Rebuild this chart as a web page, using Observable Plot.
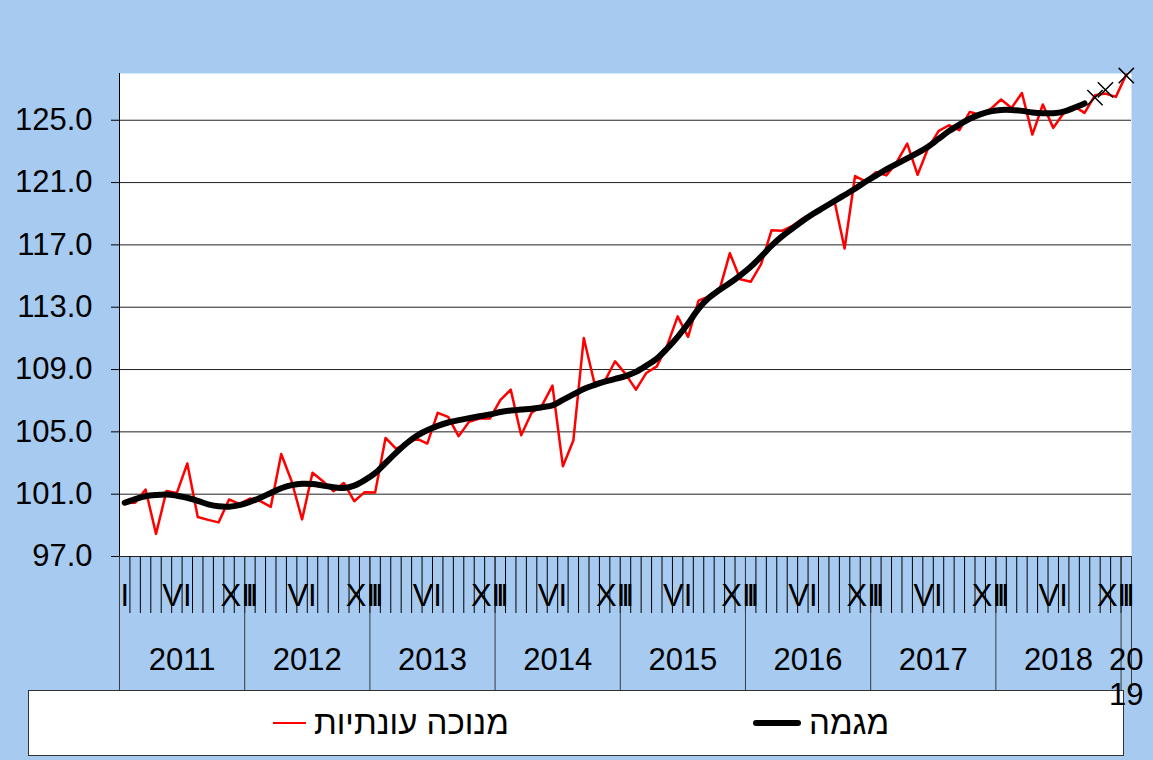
<!DOCTYPE html>
<html>
<head>
<meta charset="utf-8">
<script src="https://cdn.jsdelivr.net/npm/d3@7"></script>
<script src="https://cdn.jsdelivr.net/npm/@observablehq/plot@0.6"></script>
<style>
  html, body { margin: 0; padding: 0; }
  body { width: 1153px; height: 760px; background: #A6CAF0; position: relative; overflow: hidden;
         font-family: Arial, "Liberation Sans", sans-serif; }
  #chart { position: absolute; left: 0; top: 0; z-index: 2; }
  #legend { position: absolute; left: 28px; top: 690px; width: 1096px; height: 66px; background: #fff;
            border: 1px solid #333; box-sizing: border-box; z-index: 1; font-size: 33px; color: #000; }
  .item { position: absolute; top: 0; height: 64px; display: flex; align-items: center; }
  .sw { display: inline-block; margin-right: 8px; }
</style>
</head>
<body>
<div id="chart"></div>
<div id="legend">
  <div class="item" style="left:244px"><span class="sw" style="width:33px;height:2px;background:#ff0000"></span><span dir="rtl">מנוכה עונתיות</span></div>
  <div class="item" style="left:724px"><span class="sw" style="width:48px;height:6px;border-radius:3px;background:#000"></span><span dir="rtl">מגמה</span></div>
</div>
<script>
// Seasonally adjusted series, monthly Jan 2011 .. Jan 2019
const seasonallyAdjusted = [
  100.44, 100.45, 101.3, 98.45, 101.2, 101.08, 102.97, 99.53, 99.35, 99.19, 100.66, 100.38,
  100.72, 100.55, 100.19, 103.58, 101.83, 99.38, 102.37, 101.83, 101.19, 101.72, 100.55, 101.13,
  101.1, 104.61, 103.92, 104.22, 104.57, 104.25, 106.22, 105.96, 104.72, 105.64, 105.85, 105.85,
  107.03, 107.71, 104.78, 106.22, 106.7, 107.97, 102.79, 104.44, 111.02, 108.18, 108.24, 109.53,
  108.72, 107.71, 108.78, 109.2, 110.55, 112.41, 111.1, 113.42, 113.7, 114.08, 116.47, 114.8,
  114.63, 115.76, 117.94, 117.9, 118.22, 118.7, 119.07, 119.28, 119.92, 116.77, 121.42, 121.07,
  121.67, 121.46, 122.31, 123.5, 121.5, 123.2, 124.3, 124.68, 124.36, 125.53, 125.36, 125.73,
  126.33, 125.79, 126.75, 124.08, 126.01, 124.51, 125.47, 125.9, 125.47, 126.6, 126.71, 126.5,
  127.94
];
// Trend series, Jan 2011 .. Sep 2018
const trend = [
  100.45, 100.68, 100.87, 100.95, 100.98, 100.9, 100.77, 100.57, 100.35, 100.22, 100.2, 100.3,
  100.5, 100.77, 101.08, 101.38, 101.58, 101.67, 101.65, 101.55, 101.45, 101.4, 101.55, 101.9,
  102.35, 103.0, 103.65, 104.25, 104.75, 105.1, 105.38, 105.6, 105.75, 105.88, 106.0, 106.12,
  106.27, 106.37, 106.43, 106.48, 106.58, 106.7, 107.05, 107.4, 107.75, 108.0, 108.22, 108.4,
  108.58, 108.85, 109.25, 109.7, 110.35, 111.1, 111.95, 112.9, 113.6, 114.1, 114.55, 115.05,
  115.6, 116.25, 116.95, 117.55, 118.05, 118.55, 119.0, 119.4, 119.8, 120.2, 120.6, 121.05,
  121.45, 121.85, 122.2, 122.55, 122.9, 123.3, 123.8, 124.3, 124.72, 125.1, 125.38, 125.57,
  125.66, 125.66, 125.6, 125.5, 125.45, 125.45, 125.55, 125.8, 126.08
];
// Marked points (month index from Jan 2011)
const markerMonths = [93, 94, 96];
const markerValues = [126.45, 126.95, 127.87];

const years = ["2011", "2012", "2013", "2014", "2015", "2016", "2017", "2018", "20\n19"];
const yearMonths = [12, 12, 12, 12, 12, 12, 12, 12, 1];
const monthLabelNames = ["I", "VI", "XII"];
const monthLabelOffsets = [0, 5, 11];
const yTicks = [97, 101, 105, 109, 113, 117, 121, 125];

const nMonths = seasonallyAdjusted.length;
const saData = seasonallyAdjusted.map((v, i) => ({x: i + 0.5, v}));
const trendData = trend.map((v, i) => ({x: i + 0.5, v}));
const markerData = markerMonths.map((m, k) => ({x: m + 0.5, v: markerValues[k]}));

// year boundaries & centers
const yearStarts = [];
let acc = 0;
yearMonths.forEach(n => { yearStarts.push(acc); acc += n; });
const yearBounds = [...yearStarts, acc];
const yearCenterMap = new Map(yearStarts.map((s, k) => [s + yearMonths[k] / 2, years[k]]));

// month labels
const monthLabelMap = new Map();
yearStarts.forEach((s, k) => {
  monthLabelOffsets.forEach((o, j) => {
    if (o < yearMonths[k]) monthLabelMap.set(s + o + 0.5, monthLabelNames[j]);
  });
});

const chart = Plot.plot({
  width: 1153,
  height: 690,
  marginLeft: 119,
  marginRight: 22,
  marginTop: 73,
  marginBottom: 134,
  x: {domain: [0, nMonths], axis: null},
  y: {domain: [97, 128], axis: null},
  style: {background: "transparent", overflow: "visible", fontFamily: "Arial, 'Liberation Sans', sans-serif", color: "#000"},
  marks: [
    Plot.frame({fill: "white", stroke: null}),
    Plot.gridY(yTicks, {stroke: "#222", strokeOpacity: 1}),
    Plot.axisY({ticks: yTicks, tickFormat: d => d.toFixed(1), tickSize: 8, tickPadding: 19, fontSize: 31, stroke: "#000", label: null}),
    Plot.ruleX([0], {stroke: "#000"}),
    Plot.axisX({ticks: d3.range(nMonths + 1), tickSize: 57, tickFormat: () => "", stroke: "#000", label: null}),
    Plot.axisX({ticks: yearBounds, tickSize: 134, tickFormat: () => "", stroke: "#3a3a3a", label: null}),
    Plot.axisX({ticks: [...monthLabelMap.keys()], tickFormat: d => monthLabelMap.get(d), tickSize: 0, tickPadding: 27, fontSize: 31, label: null}),
    Plot.axisX({ticks: [...yearCenterMap.keys()], tickFormat: d => yearCenterMap.get(d), tickSize: 0, tickPadding: 88, fontSize: 31, lineHeight: 1.15, label: null}),
    Plot.line(saData, {x: "x", y: "v", stroke: "#ff0000", strokeWidth: 2.5}),
    Plot.line(trendData, {x: "x", y: "v", stroke: "#000", strokeWidth: 6, curve: "catmull-rom", strokeLinecap: "round"}),
    Plot.dot(markerData, {x: "x", y: "v", symbol: "times", r: 7, stroke: "#000", strokeWidth: 1.5})
  ]
});
document.getElementById("chart").appendChild(chart);
</script>
</body>
</html>
